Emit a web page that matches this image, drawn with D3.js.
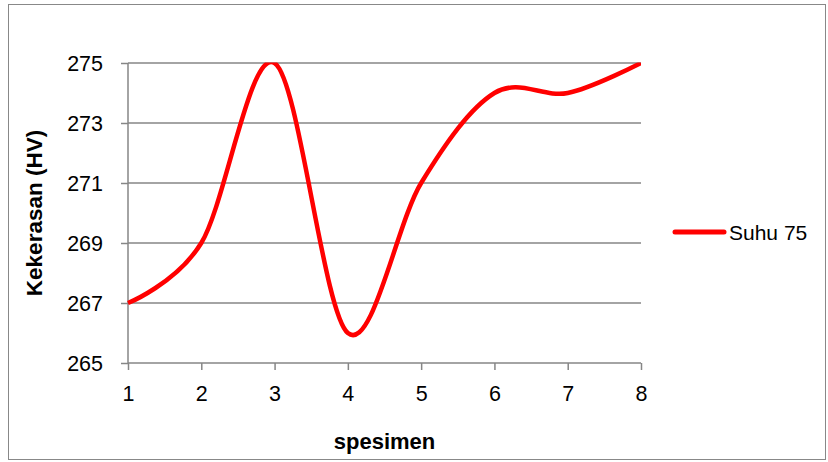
<!DOCTYPE html>
<html>
<head>
<meta charset="utf-8">
<script src="https://cdn.jsdelivr.net/npm/d3@7"></script>
<style>
  body { margin: 0; background: #fff; }
  svg text { font-family: "Liberation Sans", Arial, sans-serif; fill: #000; }
</style>
</head>
<body>
<svg id="chart" width="828" height="462"></svg>
<script>
// data
var specimens = [1, 2, 3, 4, 5, 6, 7, 8];
var hardness = [267, 269, 275, 266, 271, 274, 274, 275];
var yTicks = [265, 267, 269, 271, 273, 275];
var seriesName = "Suhu 75";

var svg = d3.select("#chart");

var plotLeft = 128, plotRight = 641, plotTop = 63, plotBottom = 363;

var x = d3.scaleLinear()
    .domain([1, 8])
    .range([plotLeft, plotRight]);

var y = d3.scaleLinear()
    .domain([265, 275])
    .range([plotBottom, plotTop]);

// outer frame
svg.append("rect")
    .attr("x", 8.5)
    .attr("y", 4.5)
    .attr("width", 817)
    .attr("height", 455)
    .attr("fill", "white")
    .attr("stroke", "#888")
    .attr("stroke-width", 1);

// gridlines
svg.selectAll(".grid")
    .data(yTicks.slice(1))
    .enter()
    .append("line")
    .attr("class", "grid")
    .attr("x1", plotLeft)
    .attr("x2", plotRight)
    .attr("y1", d => y(d))
    .attr("y2", d => y(d))
    .attr("stroke", "#868686")
    .attr("stroke-width", 1.5);

// y axis
var yAxis = d3.axisLeft(y)
    .tickValues(yTicks)
    .tickSize(7)
    .tickPadding(18);

var gy = svg.append("g")
    .attr("transform", "translate(" + plotLeft + ",0)")
    .call(yAxis);
gy.select(".domain").remove();
gy.append("line")
    .attr("x1", 0).attr("x2", 0)
    .attr("y1", plotTop).attr("y2", plotBottom)
    .attr("stroke", "#868686")
    .attr("stroke-width", 1.5);
gy.selectAll(".tick line").attr("stroke", "#868686").attr("stroke-width", 1.5);
gy.selectAll(".tick text")
    .style("font-size", "21.5px")
    .attr("dy", "0.36em");

// x axis
var xAxis = d3.axisBottom(x)
    .tickValues(specimens)
    .tickFormat(d3.format("d"))
    .tickSize(7)
    .tickPadding(16);

var gx = svg.append("g")
    .attr("transform", "translate(0," + plotBottom + ")")
    .call(xAxis);
gx.select(".domain").remove();
gx.append("line")
    .attr("x1", plotLeft).attr("x2", plotRight)
    .attr("y1", 0).attr("y2", 0)
    .attr("stroke", "#868686")
    .attr("stroke-width", 1.5);
gx.selectAll(".tick line").attr("stroke", "#868686").attr("stroke-width", 1.5);
gx.selectAll(".tick text")
    .style("font-size", "21.5px");

// clip to plot area, like the original
svg.append("clipPath")
    .attr("id", "plotclip")
    .append("rect")
    .attr("x", plotLeft - 3)
    .attr("y", plotTop - 0.5)
    .attr("width", plotRight - plotLeft + 3)
    .attr("height", plotBottom - plotTop + 5);

var line = d3.line()
    .x((d, i) => x(specimens[i]))
    .y(d => y(d))
    .curve(d3.curveCardinal.tension(0));

svg.append("path")
    .datum(hardness)
    .attr("d", line)
    .attr("fill", "none")
    .attr("stroke", "#ff0000")
    .attr("stroke-width", 4.5)
    .attr("stroke-linejoin", "round")
    .attr("clip-path", "url(#plotclip)");

// axis titles
svg.append("text")
    .attr("x", (plotLeft + plotRight) / 2)
    .attr("y", 449)
    .attr("text-anchor", "middle")
    .style("font-size", "22px")
    .style("font-weight", "bold")
    .text("spesimen");

svg.append("text")
    .attr("transform", "translate(42," + ((plotTop + plotBottom) / 2) + ") rotate(-90)")
    .attr("text-anchor", "middle")
    .style("font-size", "22.5px")
    .style("font-weight", "bold")
    .text("Kekerasan (HV)");

// legend
svg.append("line")
    .attr("x1", 675)
    .attr("x2", 724)
    .attr("y1", 232)
    .attr("y2", 232)
    .attr("stroke", "#ff0000")
    .attr("stroke-width", 5)
    .attr("stroke-linecap", "round");

svg.append("text")
    .attr("x", 729)
    .attr("y", 240)
    .style("font-size", "21px")
    .text(seriesName);
</script>
</body>
</html>
